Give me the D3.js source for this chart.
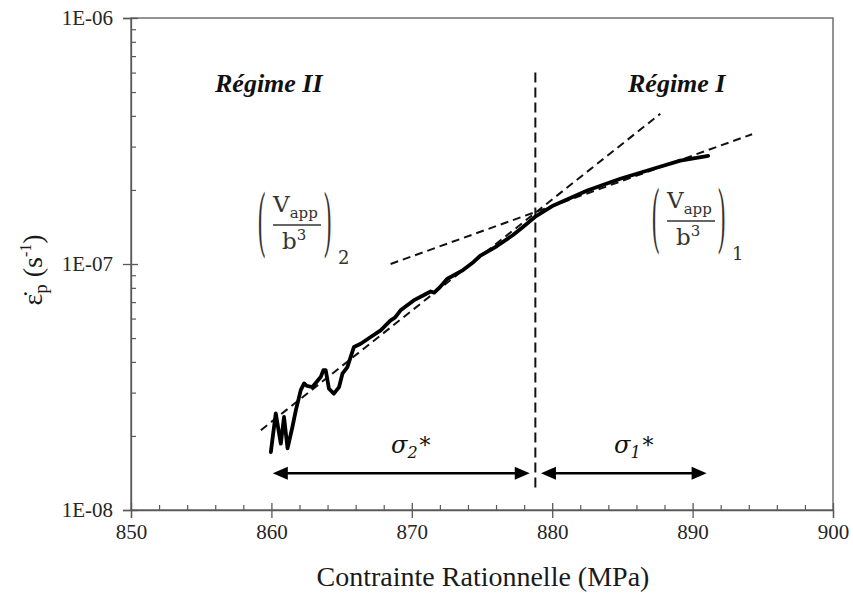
<!DOCTYPE html>
<html>
<head>
<meta charset="utf-8">
<script src="https://cdn.jsdelivr.net/npm/d3@7"></script>
<style>
  body { margin: 0; background: #fff; }
  svg { display: block; }
</style>
</head>
<body>
<div id="chart"></div>
<script>
// creep rate curve
const stress = [859.96, 860.31, 860.67, 860.90, 861.15, 861.50, 861.74, 862.09, 862.33, 862.50, 862.92,
  863.51, 863.70, 863.87, 864.10, 864.45, 864.82, 865.06, 865.41, 865.88, 866.36, 867.07, 867.78,
  868.49, 868.80, 869.20, 870.13, 870.80, 871.34, 871.60, 872.00, 872.51, 873.65, 874.40, 874.86,
  876.07, 877.21, 877.92, 878.77, 880.09, 882.50, 884.85, 887.20, 889.12, 891.11]
const rate = [1.72e-8, 2.47e-8, 1.86e-8, 2.39e-8, 1.78e-8, 2.18e-8, 2.54e-8, 3.07e-8, 3.27e-8, 3.20e-8, 3.16e-8,
  3.47e-8, 3.70e-8, 3.70e-8, 3.11e-8, 2.97e-8, 3.16e-8, 3.58e-8, 3.81e-8, 4.60e-8, 4.74e-8, 5.05e-8, 5.37e-8,
  5.90e-8, 6.05e-8, 6.48e-8, 7.11e-8, 7.45e-8, 7.73e-8, 7.65e-8, 8.05e-8, 8.69e-8, 9.45e-8, 1.02e-7, 1.078e-7,
  1.183e-7, 1.312e-7, 1.414e-7, 1.553e-7, 1.73e-7, 1.99e-7, 2.22e-7, 2.44e-7, 2.63e-7, 2.75e-7]

// fitted slopes (dashed)
const fit2Stress = [859.25, 887.70]
const fit2Rate = [2.11e-8, 4.08e-7]
const fit1Stress = [868.49, 894.24]
const fit1Rate = [1.00e-7, 3.37e-7]

// transition stress and ranges
const transition = 878.8
const transitionRate = [6.0e-7, 1.2e-8]
const sigma2Range = [860.1, 878.4]
const sigma1Range = [879.2, 891.0]
const arrowRate = 1.41e-8

const xTicks = [850, 860, 870, 880, 890, 900]
const xMinor = d3.range(852, 900, 2).filter(d => d % 10 !== 0)
const yTicks = [1e-8, 1e-7, 1e-6]
const yMinor = [2, 3, 4, 5, 6, 7, 8, 9].flatMap(k => [k * 1e-8, k * 1e-7])

const width = 853, height = 599
const margin = {top: 18, right: 20, bottom: 89, left: 131}
const axisColor = '#595959'
const serif = '"Liberation Serif", "Times New Roman", serif'
const mathFont = '"DejaVu Serif", serif'

const x = d3.scaleLinear().domain([850, 900]).range([margin.left, width - margin.right])
const y = d3.scaleLog().domain([1e-8, 1e-6]).range([height - margin.bottom, margin.top])

const svg = d3.select('#chart').append('svg')
  .attr('width', width)
  .attr('height', height)

svg.append('rect').attr('width', width).attr('height', height).attr('fill', '#fff')

// plot frame
svg.append('rect')
  .attr('x', x(850)).attr('y', y(1e-6))
  .attr('width', x(900) - x(850)).attr('height', y(1e-8) - y(1e-6))
  .attr('fill', 'none').attr('stroke', axisColor).attr('stroke-width', 1.3)

const fmt = d => '1E-' + String(-Math.round(Math.log10(d))).padStart(2, '0')

// y axis
const yAxis = svg.append('g').attr('transform', `translate(${x(850)},0)`)
  .call(d3.axisLeft(y).tickValues(yTicks).tickFormat(fmt).tickSize(8).tickPadding(10))
yAxis.select('.domain').attr('stroke', axisColor).attr('stroke-width', 1.3)
yAxis.selectAll('.tick line').attr('stroke', axisColor).attr('stroke-width', 1.3)
yAxis.selectAll('.tick text').attr('font-family', serif).attr('font-size', 21).attr('fill', '#262626')

svg.append('g').attr('transform', `translate(${x(850)},0)`)
  .call(d3.axisRight(y).tickValues(yTicks).tickFormat('').tickSize(7))
  .call(g => g.select('.domain').remove())
  .selectAll('.tick line').attr('stroke', axisColor).attr('stroke-width', 1.3)
svg.append('g').attr('transform', `translate(${x(850)},0)`)
  .call(d3.axisRight(y).tickValues(yMinor).tickFormat('').tickSize(5))
  .call(g => g.select('.domain').remove())
  .selectAll('.tick line').attr('stroke', axisColor).attr('stroke-width', 1.2)

// x axis
const xAxis = svg.append('g').attr('transform', `translate(0,${y(1e-8)})`)
  .call(d3.axisBottom(x).tickValues(xTicks).tickFormat(d3.format('d')).tickSize(8).tickPadding(6))
xAxis.select('.domain').attr('stroke', axisColor).attr('stroke-width', 1.3)
xAxis.selectAll('.tick line').attr('stroke', axisColor).attr('stroke-width', 1.3)
xAxis.selectAll('.tick text').attr('font-family', serif).attr('font-size', 21).attr('fill', '#262626')

svg.append('g').attr('transform', `translate(0,${y(1e-8)})`)
  .call(d3.axisTop(x).tickValues(xTicks).tickFormat('').tickSize(7))
  .call(g => g.select('.domain').remove())
  .selectAll('.tick line').attr('stroke', axisColor).attr('stroke-width', 1.3)
svg.append('g').attr('transform', `translate(0,${y(1e-8)})`)
  .call(d3.axisTop(x).tickValues(xMinor).tickFormat('').tickSize(5))
  .call(g => g.select('.domain').remove())
  .selectAll('.tick line').attr('stroke', axisColor).attr('stroke-width', 1.2)

// axis titles
svg.append('text')
  .attr('x', 483).attr('y', 586)
  .attr('text-anchor', 'middle')
  .attr('font-family', serif).attr('font-size', 28).attr('fill', '#1a1a1a')
  .text('Contrainte Rationnelle (MPa)')

const yt = svg.append('text')
  .attr('transform', 'translate(42,270) rotate(-90)')
  .attr('text-anchor', 'middle')
  .attr('font-family', serif).attr('font-size', 28).attr('fill', '#1a1a1a')
yt.append('tspan').text('ε\u0307')
yt.append('tspan').attr('font-size', 19).attr('dy', 5).text('p')
yt.append('tspan').attr('dy', -5).text(' (s')
yt.append('tspan').attr('font-size', 16).attr('dy', -11).text('-1')
yt.append('tspan').attr('dy', 11).text(')')

// dashed fits
const fitLine = d3.line().x(d => x(d[0])).y(d => y(d[1]))
svg.append('path')
  .attr('d', fitLine(d3.zip(fit2Stress, fit2Rate)))
  .attr('fill', 'none').attr('stroke', '#111').attr('stroke-width', 2).attr('stroke-dasharray', '8,5')
svg.append('path')
  .attr('d', fitLine(d3.zip(fit1Stress, fit1Rate)))
  .attr('fill', 'none').attr('stroke', '#111').attr('stroke-width', 2).attr('stroke-dasharray', '8,5')

// transition line
svg.append('line')
  .attr('x1', x(transition)).attr('x2', x(transition))
  .attr('y1', y(transitionRate[0])).attr('y2', y(transitionRate[1]))
  .attr('stroke', '#111').attr('stroke-width', 2).attr('stroke-dasharray', '10,5')

// data curve
svg.append('path')
  .attr('d', d3.line().x(d => x(d[0])).y(d => y(d[1]))(d3.zip(stress, rate)))
  .attr('fill', 'none').attr('stroke', '#000').attr('stroke-width', 3.8)
  .attr('stroke-linejoin', 'round').attr('stroke-linecap', 'round')

// double arrows
function doubleArrow(range) {
  const x0 = x(range[0]), x1 = x(range[1]), yy = y(arrowRate)
  const hl = 15, hh = 6.5
  svg.append('line')
    .attr('x1', x0 + hl - 2).attr('x2', x1 - hl + 2).attr('y1', yy).attr('y2', yy)
    .attr('stroke', '#000').attr('stroke-width', 2.4)
  svg.append('path').attr('d', `M${x0},${yy}L${x0 + hl},${yy - hh}L${x0 + hl},${yy + hh}Z`).attr('fill', '#000')
  svg.append('path').attr('d', `M${x1},${yy}L${x1 - hl},${yy - hh}L${x1 - hl},${yy + hh}Z`).attr('fill', '#000')
}
doubleArrow(sigma2Range)
doubleArrow(sigma1Range)

function sigmaLabel(px, py, sub) {
  const t = svg.append('text').attr('x', px).attr('y', py)
    .attr('font-family', mathFont).attr('font-size', 24).attr('fill', '#111')
  t.append('tspan').attr('font-style', 'italic').text('σ')
  t.append('tspan').attr('font-style', 'italic').attr('font-size', 16).attr('dy', 5).text(sub)
  t.append('tspan').attr('font-size', 22).attr('dy', -5).attr('dx', 2).text('*')
}
sigmaLabel(391, 453, '2')
sigmaLabel(614, 453, '1')

// regime labels
svg.append('text').attr('x', 215).attr('y', 92)
  .attr('font-family', serif).attr('font-size', 26).attr('font-weight', 'bold').attr('font-style', 'italic')
  .attr('fill', '#111').text('Régime II')
svg.append('text').attr('x', 628).attr('y', 92)
  .attr('font-family', serif).attr('font-size', 26).attr('font-weight', 'bold').attr('font-style', 'italic')
  .attr('fill', '#111').text('Régime I')

// (Vapp / b^3)_n annotations
function fraction(ox, oy, sub) {
  const g = svg.append('g').attr('transform', `translate(${ox},${oy})`)
  g.append('line').attr('x1', 0).attr('x2', 48).attr('y1', 0).attr('y2', 0)
    .attr('stroke', '#333').attr('stroke-width', 1.3)
  const num = g.append('text').attr('x', 0).attr('y', -13)
    .attr('font-family', mathFont).attr('font-size', 23).attr('fill', '#333')
  num.append('tspan').text('V')
  num.append('tspan').attr('font-size', 15).attr('dy', 6).text('app')
  const den = g.append('text').attr('x', 9).attr('y', 24)
    .attr('font-family', mathFont).attr('font-size', 23).attr('fill', '#333')
  den.append('tspan').text('b')
  den.append('tspan').attr('font-size', 15).attr('dy', -9).text('3')
  g.append('text').attr('transform', 'translate(-15,17.6) scale(1,3.4)')
    .attr('font-family', serif).attr('font-size', 22).attr('fill', '#333').text('(')
  g.append('text').attr('transform', 'translate(51,17.6) scale(1,3.4)')
    .attr('font-family', serif).attr('font-size', 22).attr('fill', '#333').text(')')
  g.append('text').attr('x', 65).attr('y', 39)
    .attr('font-family', mathFont).attr('font-size', 18).attr('fill', '#333').text(sub)
}
fraction(273, 225, '2')
fraction(667, 221, '1')
</script>
</body>
</html>
